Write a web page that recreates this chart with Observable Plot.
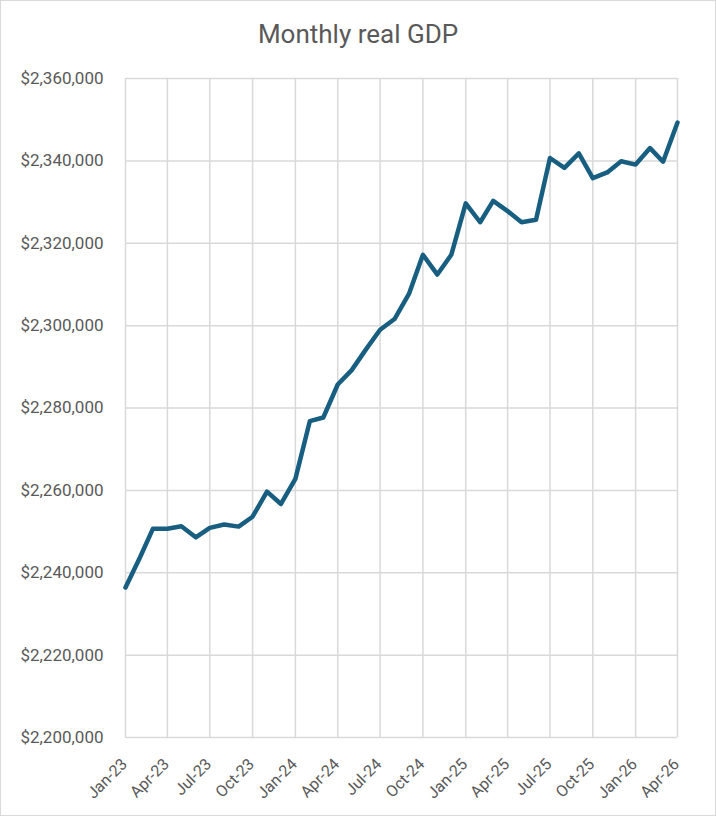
<!DOCTYPE html>
<html>
<head>
<meta charset="utf-8">
<script src="https://cdn.jsdelivr.net/npm/d3@7"></script>
<script src="https://cdn.jsdelivr.net/npm/@observablehq/plot@0.6"></script>
<style>
  html, body { margin: 0; padding: 0; background: #fff; }
  #frame { width: 716px; height: 816px; box-sizing: border-box; border: 1px solid #d9d9d9; background: #fff; font-family: Roboto, "Liberation Sans", sans-serif; }
  #title { height: 60px; text-align: center; font-size: 26px; color: #595959; line-height: 66px; }
  svg { display: block; }
</style>
</head>
<body>
<div id="frame">
  <div id="title">Monthly real GDP</div>
  <div id="chart"></div>
</div>
<script>
const months = [
  "2023-01","2023-02","2023-03","2023-04","2023-05","2023-06","2023-07","2023-08","2023-09","2023-10","2023-11","2023-12",
  "2024-01","2024-02","2024-03","2024-04","2024-05","2024-06","2024-07","2024-08","2024-09","2024-10","2024-11","2024-12",
  "2025-01","2025-02","2025-03","2025-04","2025-05","2025-06","2025-07","2025-08","2025-09","2025-10","2025-11","2025-12",
  "2026-01","2026-02","2026-03","2026-04"
];
const gdp = [
  2236400, 2243700, 2250700, 2250700, 2251300, 2248600, 2250900, 2251700, 2251200, 2253600, 2259700, 2256700,
  2262800, 2276800, 2277700, 2285700, 2289200, 2294300, 2299000, 2301600, 2307700, 2317200, 2312400, 2317200,
  2329700, 2325100, 2330300, 2327800, 2325100, 2325700, 2340700, 2338300, 2341800, 2335800, 2337200, 2339900,
  2339100, 2343100, 2339800, 2349300
];
const yTicks = [2200000, 2220000, 2240000, 2260000, 2280000, 2300000, 2320000, 2340000, 2360000];

const data = months.map((m, i) => ({date: new Date(m + "-01T00:00:00Z"), value: gdp[i]}));
const xTicks = data.filter((d, i) => i % 3 === 0).map(d => d.date);

const fmtY = d => "$" + d3.format(",")(d);
const fmtX = d3.utcFormat("%b-%y");

const chart = Plot.plot({
  width: 714,
  height: 754,
  marginTop: 17,
  marginLeft: 124,
  marginRight: 38,
  marginBottom: 78,
  style: { fontFamily: "Roboto, 'Liberation Sans', sans-serif", fontSize: "16px", color: "#595959", background: "#fff" },
  x: { type: "utc", domain: [data[0].date, data[data.length - 1].date], label: null, axis: null },
  y: { domain: [2200000, 2360000], label: null },
  marks: [
    Plot.gridX(xTicks, { stroke: "#d9d9d9", strokeOpacity: 1, strokeWidth: 1.5 }),
    Plot.gridY(yTicks, { stroke: "#d9d9d9", strokeOpacity: 1, strokeWidth: 1.5 }),
    Plot.text(xTicks, { x: d => d, text: d => fmtX(d), frameAnchor: "bottom", rotate: -45, textAnchor: "end", lineAnchor: "middle", dx: -1, dy: 24, fill: "#595959", fontSize: 16 }),
    Plot.axisY(yTicks, { tickFormat: fmtY, tickSize: 0, tickPadding: 22, fill: "#595959", fontSize: 17 }),
    Plot.line(data, { x: "date", y: "value", stroke: "#185e80", strokeWidth: 4.5, strokeLinejoin: "round", strokeLinecap: "round" })
  ]
});
document.getElementById("chart").appendChild(chart);
</script>
</body>
</html>
